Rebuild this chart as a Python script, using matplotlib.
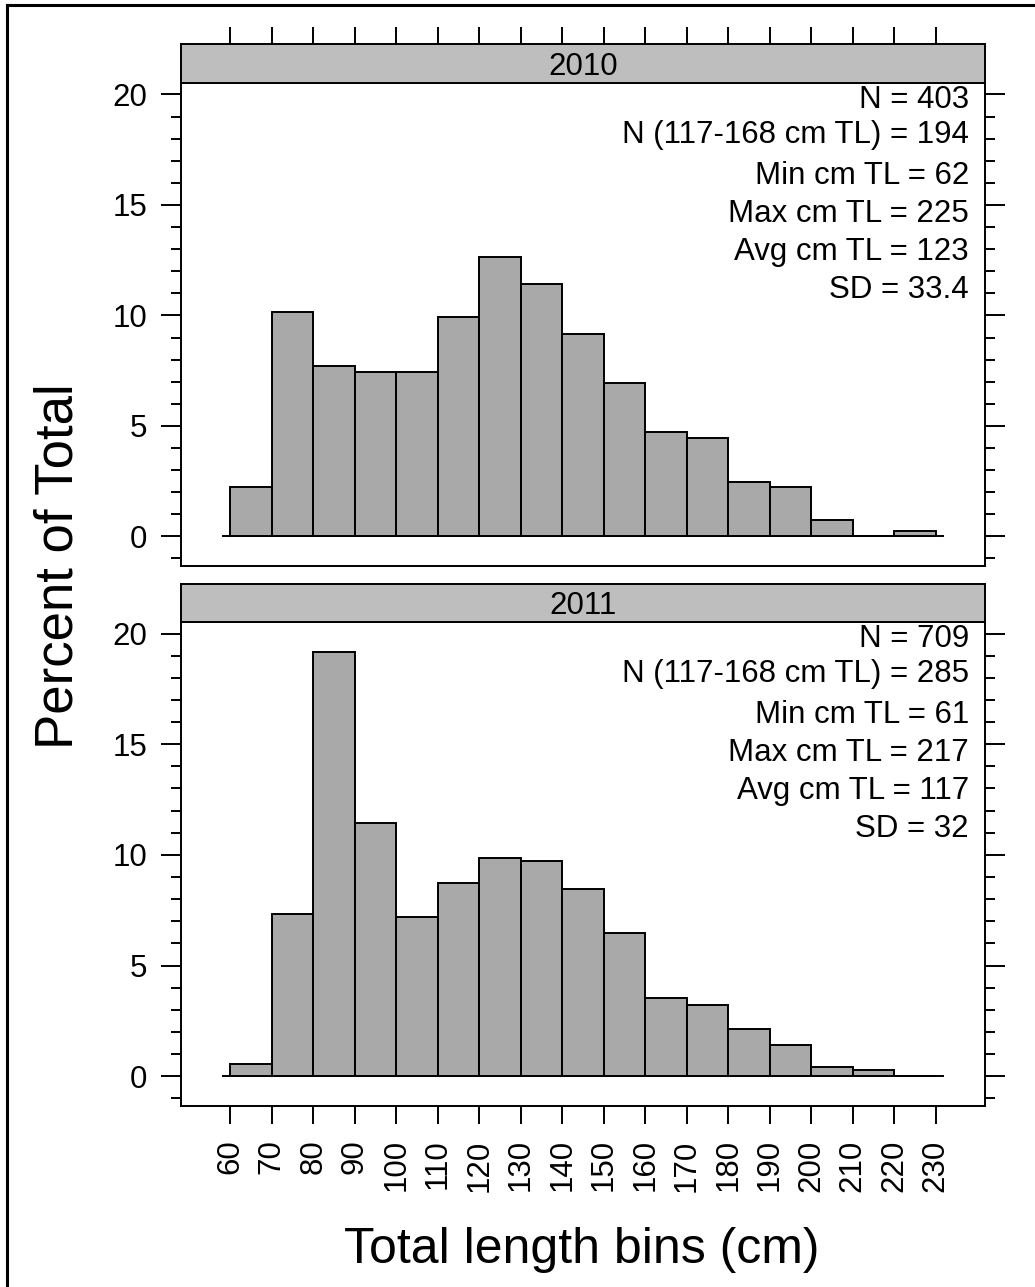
import matplotlib
matplotlib.use('Agg')
import matplotlib.pyplot as plt
from matplotlib.ticker import MultipleLocator
from matplotlib.lines import Line2D

plt.rcParams['font.family'] = ['Liberation Sans', 'DejaVu Sans']

# data (percent of total per 10 cm bin, left edges)
bin_left = [60, 70, 80, 90, 100, 110, 120, 130, 140, 150, 160, 170, 180, 190, 200, 210, 220]
pct_2010 = [2.23, 10.17, 7.69, 7.44, 7.44, 9.93, 12.66, 11.41, 9.18, 6.95, 4.71, 4.47, 2.48, 2.23, 0.74, 0.0, 0.25]
pct_2011 = [0.56, 7.33, 19.18, 11.42, 7.19, 8.74, 9.87, 9.73, 8.46, 6.49, 3.53, 3.24, 2.12, 1.41, 0.42, 0.28, 0.0]
years = ['2010', '2011']
stats_2010 = ['N = 403', 'N (117-168 cm TL) = 194', 'Min cm TL = 62',
              'Max cm TL = 225', 'Avg cm TL = 123', 'SD = 33.4']
stats_2011 = ['N = 709', 'N (117-168 cm TL) = 285', 'Min cm TL = 61',
              'Max cm TL = 217', 'Avg cm TL = 117', 'SD = 32']
xticks = list(range(60, 231, 10))

W, H = 1035, 1287
fig = plt.figure(figsize=(W / 100, H / 100), dpi=100)


def box(x0, y0, x1, y1):
    return [x0 / W, 1 - y1 / H, (x1 - x0) / W, (y1 - y0) / H]


panels = [
    (box(181, 83, 985, 566), box(181, 44, 985, 83), pct_2010, stats_2010, years[0], True),
    (box(181, 622, 985, 1106), box(181, 584, 985, 622), pct_2011, stats_2011, years[1], False),
]
offsets = [17, 52, 93, 131, 169, 207]
lw = 1.4

for rect, srect, pct, stats, year, is_top in panels:
    ax = fig.add_axes(rect)
    ax.bar(bin_left, pct, width=10, align='edge', color='#A9A9A9',
           edgecolor='black', linewidth=lw, zorder=2)
    ax.hlines(0, 58, 232, color='black', linewidth=lw, zorder=1)
    ax.set_xlim(48.1, 241.9)
    ax.set_ylim(-1.34, 20.52)
    for sp in ax.spines.values():
        sp.set_linewidth(lw)
    ax.yaxis.set_major_locator(MultipleLocator(5))
    ax.yaxis.set_minor_locator(MultipleLocator(1))
    ax.tick_params(axis='y', which='major', direction='out', length=14.4, width=lw,
                   left=True, right=True, labelsize=22.5, pad=10)
    ax.tick_params(axis='y', which='minor', direction='out', length=7.2, width=lw,
                   left=True, right=True)
    if is_top:
        ax.set_xticks([])
    else:
        ax.set_xticks(xticks)
        ax.set_xticklabels([str(t) for t in xticks], rotation=90)
        ax.tick_params(axis='x', direction='out', length=13, width=lw,
                       labelsize=22.5, pad=11)
    for i, s in enumerate(stats):
        ax.annotate(s, xy=(1, 1), xycoords='axes fraction',
                    xytext=(-16, -offsets[i]), textcoords='offset pixels',
                    ha='right', va='center', fontsize=22.5)

    sax = fig.add_axes(srect)
    sax.set_facecolor('#BEBEBE')
    sax.set_xlim(48.1, 241.9)
    sax.set_yticks([])
    for sp in sax.spines.values():
        sp.set_linewidth(lw)
    if is_top:
        sax.set_xticks(xticks)
        sax.tick_params(axis='x', top=True, bottom=False, labeltop=False,
                        labelbottom=False, direction='out', length=12.5, width=lw)
    else:
        sax.set_xticks([])
    sax.text(0.5, 0.42, year, ha='center', va='center', fontsize=22.5,
             transform=sax.transAxes)

fig.text(59 / W, 1 - 566 / H, 'Percent of Total', rotation=90, fontsize=38,
         ha='center', va='center')
fig.text(582 / W, 1 - 1250 / H, 'Total length bins (cm)', fontsize=36,
         ha='center', va='center')

# outer frame (left and top edges)
fig.add_artist(Line2D([7 / W, 7 / W], [0, 1 - 5 / H], color='black', linewidth=2.2))
fig.add_artist(Line2D([7 / W, 1], [1 - 5 / H, 1 - 5 / H], color='black', linewidth=2.2))

fig.savefig('out.png', dpi=100)
